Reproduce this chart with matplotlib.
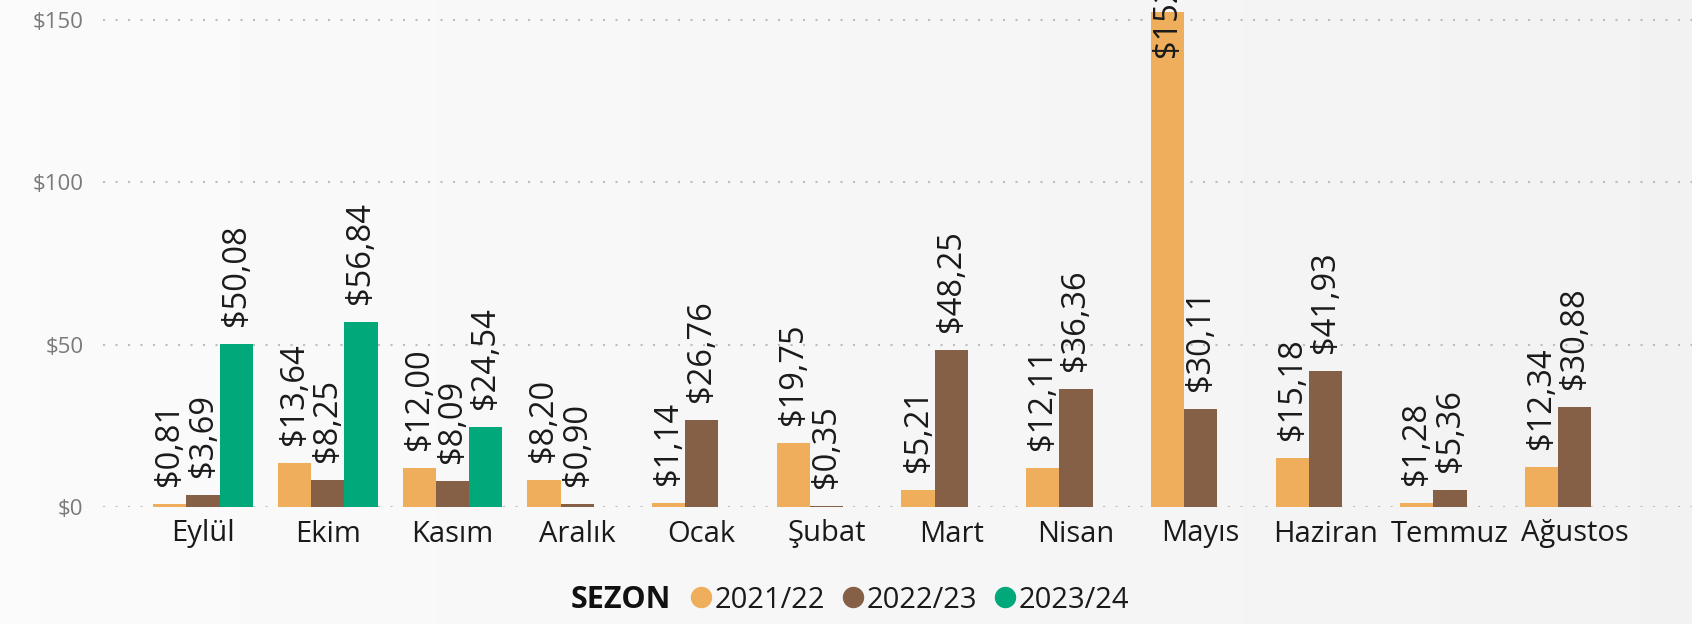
import numpy as np
import matplotlib
matplotlib.use("Agg")
import matplotlib.pyplot as plt
from matplotlib.lines import Line2D

plt.rcParams["font.family"] = ["Open Sans", "DejaVu Sans"]

# ── Data ─────────────────────────────────────────────────────────────────────
months = ["Eylül", "Ekim", "Kasım", "Aralık", "Ocak", "Şubat",
          "Mart", "Nisan", "Mayıs", "Haziran", "Temmuz", "Ağustos"]
seasons = ["2021/22", "2022/23", "2023/24"]
s2122 = [0.81, 13.64, 12.00, 8.20, 1.14, 19.75, 5.21, 12.11, 152.40, 15.18, 1.28, 12.34]
s2223 = [3.69, 8.25, 8.09, 0.90, 26.76, 0.35, 48.25, 36.36, 30.11, 41.93, 5.36, 30.88]
s2324 = [50.08, 56.84, 24.54, None, None, None, None, None, None, None, None, None]
yticks = [0, 50, 100, 150]

# ── Style ────────────────────────────────────────────────────────────────────
C_ORANGE = "#EFAE5B"
C_BROWN = "#856047"
C_GREEN = "#01A97A"
C_TEXT = "#1a1a1a"
C_AXIS = "#7a7a7a"
colors = [C_ORANGE, C_BROWN, C_GREEN]

W, H = 1692, 624
fig = plt.figure(figsize=(W / 100, H / 100), dpi=100)

# subtle background gradient
bg = fig.add_axes([0, 0, 1, 1], zorder=-10)
grad = np.linspace(0.985, 0.952, 256).reshape(1, -1)
bg.imshow(np.dstack([grad, grad, grad]), aspect="auto", extent=[0, 1, 0, 1])
bg.axis("off")

left_px, right_px, top_px, zero_px = 103, 1692, 0, 507
ax = fig.add_axes([left_px / W, (H - zero_px) / H,
                   (right_px - left_px) / W, (zero_px - top_px) / H])
ax.set_facecolor("none")

pitch_px = 124.7
x0_px = 203
x = np.arange(len(months))
bw = 33.2 / pitch_px
ax.set_xlim((left_px - x0_px) / pitch_px, (right_px - x0_px) / pitch_px)
y_per_px = 150 / (zero_px - 20)
ax.set_ylim(0, (zero_px - top_px) * y_per_px)

ymax = 150
for k, (series, col) in enumerate(zip([s2122, s2223, s2324], colors)):
    xs = x + (k - 1) * bw
    for xi, v in zip(xs, series):
        if v is None:
            continue
        ax.bar(xi, v, bw, color=col, zorder=3)
        label = f"${v:.2f}".replace(".", ",")
        # label that would run past the top is pulled down into the bar
        off = 13 if v < ymax else -32
        ax.annotate(label, xy=(xi, v), xytext=(0, off), textcoords="offset points",
                    rotation=90, ha="center", va="bottom", fontsize=23.5,
                    color=C_TEXT, zorder=4, annotation_clip=False)

ax.set_yticks(yticks)
ax.set_yticklabels([f"${t}" for t in yticks], fontsize=16, color=C_AXIS)
ax.set_xticks(x)
ax.set_xticklabels(months, fontsize=21, color=C_TEXT)
ax.tick_params(axis="both", length=0)
ax.tick_params(axis="y", pad=14)
ax.tick_params(axis="x", pad=9)
for s in ax.spines.values():
    s.set_visible(False)
ax.yaxis.grid(True, color="#bdbdbd", linewidth=1.5, linestyle=(0, (1, 5)))
ax.set_axisbelow(True)

# ── Legend ───────────────────────────────────────────────────────────────────
leg_y = (H - 600) / H
fig.text(671 / W, leg_y, "SEZON", ha="right", va="center", fontsize=22,
         fontweight="bold", color="#111111")
handles = [Line2D([], [], ls="none", marker="o", markersize=14.4, color=c) for c in colors]
fig.legend(handles, seasons, loc="center left", bbox_to_anchor=(691 / W, leg_y),
           ncol=3, frameon=False, fontsize=21, handlelength=0.7, handletextpad=0.12,
           columnspacing=0.6, borderpad=0, borderaxespad=0, labelcolor=C_TEXT)

fig.savefig("out.png", dpi=100)
